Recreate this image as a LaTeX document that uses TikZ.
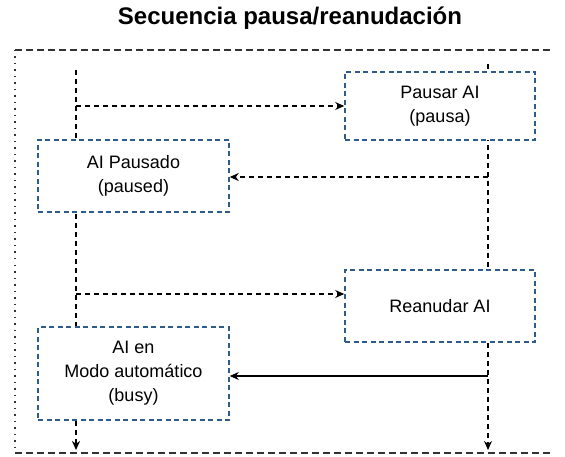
\documentclass[tikz,border=0pt]{standalone}
\usepackage{fontspec}
\setmainfont{Liberation Sans}
\usetikzlibrary{arrows.meta}
\definecolor{boxblue}{HTML}{2E5C8A}
\tikzset{
  x=1pt, y=-1pt,
  statebox/.style={draw=boxblue, line width=1.6pt, dash pattern=on 5pt off 3.5pt, fill=white,
    align=center, font=\fontsize{18}{24}\selectfont, inner sep=0pt},
  lifeline/.style={draw=black, line width=1.6pt, dash pattern=on 6pt off 4pt},
  msg/.style={draw=black, line width=1.5pt, dash pattern=on 5pt off 4pt, -{Stealth[length=9pt,width=8pt]}},
  msgsolid/.style={draw=black, line width=1.5pt, -{Stealth[length=9pt,width=8pt]}},
  frameline/.style={draw=black!80, line width=1.5pt, dash pattern=on 7pt off 4pt},
}
\begin{document}
\begin{tikzpicture}
\useasboundingbox (0,0) rectangle (565,457);

% title
\node (title) at (290,18) {\fontsize{24}{28}\selectfont\bfseries Secuencia pausa/reanudación};

% frame (top, left, bottom)
\coordinate (ftl) at (15,50);
\coordinate (ftr) at (553,50);
\coordinate (fbl) at (15,453);
\coordinate (fbr) at (553,453);
\draw[frameline] (ftl) -- (ftr);
\draw[frameline] (fbl) -- (fbr);
\draw[black!80, line width=1.5pt, dash pattern=on 1.5pt off 5pt] (ftl) -- (fbl);

% lifelines
\coordinate (ltop) at (76,70);
\coordinate (lbot) at (76,450);
\coordinate (rtop) at (488,64);
\coordinate (rbot) at (488,450);
\draw[msg] (ltop) -- (lbot);
\draw[msg] (rtop) -- (rbot);

% states and actions
\node[statebox, minimum width=190pt, minimum height=68pt] (pause) at (440,106) {Pausar AI\\(pausa)};
\node[statebox, minimum width=191pt, minimum height=72pt] (paused) at (133.5,176) {AI Pausado\\(paused)};
\node[statebox, minimum width=190pt, minimum height=72pt] (resume) at (440,306) {Reanudar AI};
\node[statebox, minimum width=191pt, minimum height=93pt] (busy) at (133.5,373.5) {AI en\\Modo automático\\(busy)};

% messages
\coordinate (m1) at (76,106);
\coordinate (m2) at (488,177);
\coordinate (m3) at (76,294);
\coordinate (m4) at (488,376);
\draw[msg] (m1) -- (pause.west |- m1);
\draw[msg] (m2) -- (paused.east |- m2);
\draw[msg] (m3) -- (resume.west |- m3);
\draw[msgsolid] (m4) -- (busy.east |- m4);
\end{tikzpicture}
\end{document}
